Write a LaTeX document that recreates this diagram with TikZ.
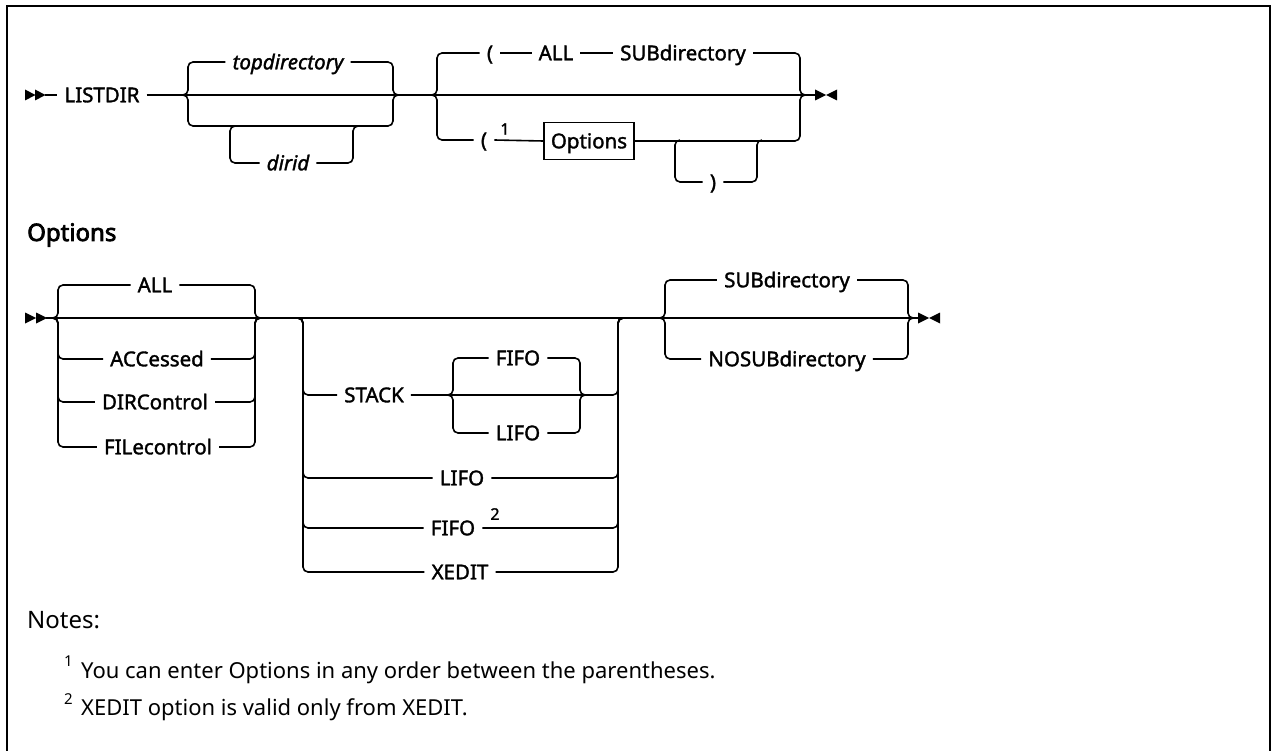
\documentclass[tikz,border=0pt]{standalone}
\usepackage{fontspec}
\setmainfont{Noto Sans}
\newfontfamily\lblfont{Noto Sans}[FakeBold=1.6]
\newfontfamily\headfont{Noto Sans}[FakeBold=3.2]
\begin{document}
\begin{tikzpicture}[x=1pt,y=-1pt,
  rail/.style={line width=1.6pt, rounded corners=5pt},
  lbl/.style={font=\lblfont\fontsize{20.5}{24}\selectfont, text height=14.6pt, text depth=0pt, inner xsep=7pt, inner ysep=0pt},
  ilbl/.style={lbl, font=\lblfont\itshape\fontsize{20.5}{24}\selectfont},
  sup/.style={font=\lblfont\fontsize{16}{18}\selectfont, inner sep=0pt},
  boxlbl/.style={lbl, draw, line width=1.3pt, minimum height=37pt},
  tip/.style={fill=black},
  notefont/.style={font=\fontsize{22}{26}\selectfont, inner sep=0pt, anchor=base west},
  notesup/.style={font=\fontsize{15}{17}\selectfont, inner sep=0pt, anchor=base west}]
\useasboundingbox (0,0) rectangle (1274,751);
\draw[line width=2.6pt] (7,751) -- (7,6) -- (1270,6) -- (1270,751);

% ---------- LISTDIR diagram ----------
\fill[tip] (25,89.5) -- (35.5,95) -- (25,100.5) -- cycle;
\fill[tip] (35,89.5) -- (45.5,95) -- (35,100.5) -- cycle;
\coordinate (s1) at (45,95);
\node[lbl] (listdir) at (102,95) {LISTDIR};
\coordinate (g1in) at (183,95);
\coordinate (g1out) at (398,95);
\coordinate (g2in) at (432,95);
\coordinate (g2out) at (805,95);
\coordinate (e1) at (816,95);
\draw[rail] (s1) -- (listdir.west);
\draw[rail] (listdir.east) -- (g1in) -- (g1out) -- (g2in) -- (g2out) -- (e1);
\fill[tip] (815,89.5) -- (826,95) -- (815,100.5) -- cycle;
\fill[tip] (837,89.5) -- (826,95) -- (837,100.5) -- cycle;

% group 1
\node[ilbl] (topdir) at (288,62) {topdirectory};
\draw[rail] (g1in) -| (188,62) -- (topdir.west);
\draw[rail] (topdir.east) -| (393,95) -- (g1out);
\draw[rail] (g1in) -| (188,126) -- (393,126) |- (g1out);
\node[ilbl] (dirid) at (288,163) {dirid};
\draw[rail] (235,126) -| (230,163) -- (dirid.west);
\draw[rail] (dirid.east) -| (353,126) -- (358,126);

% group 2
\node[lbl] (lpa) at (490,53) {(};
\node[lbl] (alla) at (556,53) {ALL};
\node[lbl] (suba) at (683,53) {SUBdirectory};
\draw[rail] (g2in) -| (437,53) -- (lpa.west);
\draw[rail] (lpa.east) -- (alla.west);
\draw[rail] (alla.east) -- (suba.west);
\draw[rail] (suba.east) -| (800,95) -- (g2out);
\node[lbl] (lpb) at (484,140) {(};
\node[sup] (fn1) at (505,129) {1};
\node[boxlbl] (optbox) at (589,141) {Options};
\draw[rail] (g2in) -| (437,140) -- (lpb.west);
\draw[rail] (lpb.east) -- (optbox.west);
\draw[rail] (optbox.east) -| (800,95) -- (g2out);
\node[lbl] (rpb) at (713,182) {)};
\draw[rail] (680,140) -| (675,182) -- (rpb.west);
\draw[rail] (rpb.east) -| (757,140) -- (762,140);

% ---------- Options heading ----------
\node[anchor=base west, inner sep=0pt, font=\headfont\fontsize{24}{28}\selectfont] (opthead) at (27,241) {Options};

% ---------- Options diagram ----------
\fill[tip] (25,312.5) -- (36,318) -- (25,323.5) -- cycle;
\fill[tip] (36,312.5) -- (47,318) -- (36,323.5) -- cycle;
\coordinate (s2) at (46,318);
\coordinate (aIn) at (53,318);
\coordinate (aOut) at (260,318);
\coordinate (bIn) at (298,318);
\coordinate (bOut) at (623,318);
\coordinate (cIn) at (660,318);
\coordinate (cOut) at (913,318);
\coordinate (e2) at (918,318);
\draw[rail] (s2) -- (aIn) -- (aOut) -- (bIn) -- (bOut) -- (cIn) -- (cOut) -- (e2);
\fill[tip] (918,312.5) -- (929,318) -- (918,323.5) -- cycle;
\fill[tip] (940,312.5) -- (929,318) -- (940,323.5) -- cycle;

% group A
\node[lbl] (allA) at (155,285) {ALL};
\node[lbl] (accA) at (157,359) {ACCessed};
\node[lbl] (dirA) at (155,402) {DIRControl};
\node[lbl] (filA) at (158,447) {FILecontrol};
\foreach \n/\y in {allA/285, accA/359, dirA/402, filA/447}{
  \draw[rail] (aIn) -| (58,\y) -- (\n.west);
  \draw[rail] (\n.east) -| (255,318) -- (aOut);
}

% group B
\node[lbl] (stack) at (374,395) {STACK};
\node[lbl] (fifoS) at (518,358) {FIFO};
\node[lbl] (lifoS) at (518,433) {LIFO};
\node[lbl] (lifoB) at (462,478) {LIFO};
\node[lbl] (fifoB) at (453,528) {FIFO};
\node[sup] (fn2) at (495,514) {2};
\node[lbl] (xedit) at (460,572) {XEDIT};
\draw[rail] (bIn) -| (303,395) -- (stack.west);
\draw[rail] (stack.east) -| (618,318) -- (bOut);
\draw[rail] (448,395) -| (453,358) -- (fifoS.west);
\draw[rail] (fifoS.east) -| (580,395) -- (585,395);
\draw[rail] (448,395) -| (453,433) -- (lifoS.west);
\draw[rail] (lifoS.east) -| (580,395) -- (585,395);
\foreach \n/\y in {lifoB/478, fifoB/528, xedit/572}{
  \draw[rail] (bIn) -| (303,\y) -- (\n.west);
  \draw[rail] (\n.east) -| (618,318) -- (bOut);
}

% group C
\node[lbl] (subC) at (787,280) {SUBdirectory};
\node[lbl] (nosubC) at (787,359) {NOSUBdirectory};
\foreach \n/\y in {subC/280, nosubC/359}{
  \draw[rail] (cIn) -| (665,\y) -- (\n.west);
  \draw[rail] (\n.east) -| (908,318) -- (cOut);
}

% ---------- Notes ----------
\node[anchor=base west, inner sep=0pt, font=\fontsize{24}{28}\selectfont] (notes) at (27,628) {Notes:};
\node[notesup] (ns1) at (64,666) {1};
\node[notefont] (note1) at (81,678) {You can enter Options in any order between the parentheses.};
\node[notesup] (ns2) at (64,704) {2};
\node[notefont] (note2) at (81,715) {XEDIT option is valid only from XEDIT.};
\end{tikzpicture}
\end{document}
